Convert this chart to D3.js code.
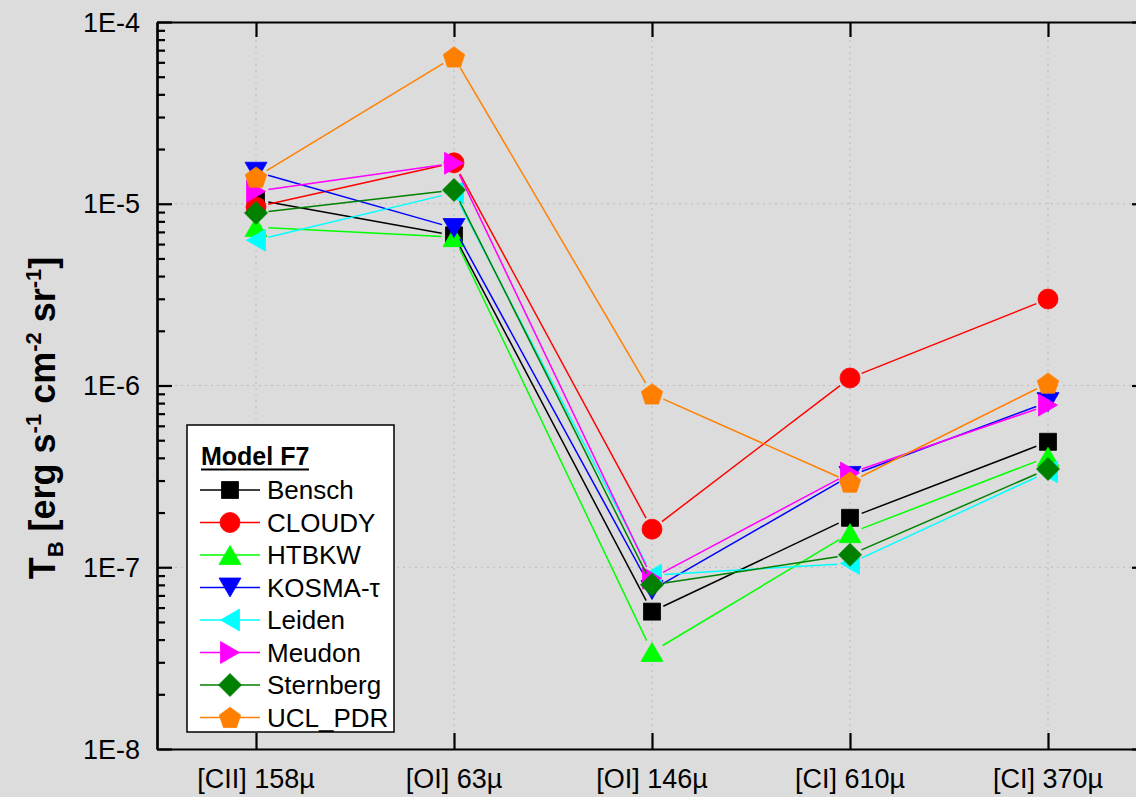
<!DOCTYPE html>
<html>
<head>
<meta charset="utf-8">
<script src="https://cdn.jsdelivr.net/npm/d3@7"></script>
<style>
html,body{margin:0;padding:0;background:#dcdcdc;}
svg{display:block;}
</style>
</head>
<body>
<svg id="chart" width="1136" height="797"></svg>
<script>
// ---- data ----
const categories = ["[CII] 158\u00b5", "[OI] 63\u00b5", "[OI] 146\u00b5", "[CI] 610\u00b5", "[CI] 370\u00b5"];
const yTickValues = [1e-8, 1e-7, 1e-6, 1e-5, 1e-4];
const yTickLabels = ["1E-8", "1E-7", "1E-6", "1E-5", "1E-4"];
const seriesNames = ["Bensch", "CLOUDY", "HTBKW", "KOSMA-\u03c4", "Leiden", "Meudon", "Sternberg", "UCL_PDR"];
const seriesColors = ["#000000", "#ff0000", "#00ff00", "#0000ff", "#00ffff", "#ff00ff", "#008000", "#ff8000"];
const seriesShapes = ["square", "circle", "triUp", "triDown", "triLeft", "triRight", "diamond", "pentagon"];
const bensch    = [1.05e-5, 6.7e-6, 5.7e-8, 1.87e-7, 4.9e-7];
const cloudy    = [9.6e-6, 1.68e-5, 1.62e-7, 1.1e-6, 2.99e-6];
const htbkw     = [7.45e-6, 6.55e-6, 3.42e-8, 1.54e-7, 4.05e-7];
const kosma     = [1.5e-5, 7.35e-6, 7.5e-8, 3.18e-7, 8.1e-7];
const leiden    = [6.3e-6, 1.15e-5, 9.05e-8, 1.05e-7, 3.35e-7];
const meudon    = [1.17e-5, 1.67e-5, 8.7e-8, 3.3e-7, 7.8e-7];
const sternberg = [8.9e-6, 1.19e-5, 8.0e-8, 1.17e-7, 3.47e-7];
const ucl       = [1.4e-5, 6.42e-5, 8.98e-7, 2.94e-7, 1.03e-6];
const seriesValues = [bensch, cloudy, htbkw, kosma, leiden, meudon, sternberg, ucl];
const legendTitle = "Model F7";

(function () {
const FONT = "'Liberation Sans', Arial, sans-serif";
const svg = d3.select("#chart");
const pLeft = 157, pRight = 1147, pTop = 22, pBottom = 749;
const x = d3.scaleLinear().domain([0.5, categories.length + 0.5]).range([pLeft, pRight]);
const y = d3.scaleLog().domain([1e-8, 1e-4]).range([pBottom, pTop]);

svg.append("rect").attr("width", 1136).attr("height", 797).attr("fill", "#dcdcdc");

// grid
const grid = svg.append("g").attr("stroke", "#bcbcbc").attr("stroke-width", 1).attr("stroke-dasharray", "2,4");
categories.forEach((c, i) => {
  grid.append("line").attr("x1", x(i + 1)).attr("x2", x(i + 1)).attr("y1", pTop).attr("y2", pBottom);
});
yTickValues.slice(1, -1).forEach(v => {
  grid.append("line").attr("x1", pLeft).attr("x2", pRight).attr("y1", y(v)).attr("y2", y(v));
});

// axes
const minorVals = [];
for (let e = -8; e < -4; e++) for (let m = 2; m <= 9; m++) minorVals.push(m * Math.pow(10, e));

const leftAxis = d3.axisRight(y).tickValues(yTickValues).tickFormat("").tickSizeInner(15).tickSizeOuter(0);
const leftMinor = d3.axisRight(y).tickValues(minorVals).tickFormat("").tickSizeInner(8).tickSizeOuter(0);
const rightAxis = d3.axisLeft(y).tickValues(yTickValues).tickFormat("").tickSizeInner(15).tickSizeOuter(0);
const rightMinor = d3.axisLeft(y).tickValues(minorVals).tickFormat("").tickSizeInner(8).tickSizeOuter(0);
const bottomAxis = d3.axisTop(x).tickValues(d3.range(1, categories.length + 1)).tickFormat("").tickSizeInner(16).tickSizeOuter(0);
const topAxis = d3.axisBottom(x).tickValues(d3.range(1, categories.length + 1)).tickFormat("").tickSizeInner(15).tickSizeOuter(0);

function styleAxis(g) {
  g.selectAll("path").attr("stroke", "#000").attr("stroke-width", 2.2);
  g.selectAll("line").attr("stroke", "#000").attr("stroke-width", 2.2);
}
svg.append("g").attr("transform", `translate(${pLeft},0)`).call(leftAxis).call(styleAxis);
svg.append("g").attr("transform", `translate(${pLeft},0)`).call(leftMinor).call(styleAxis);
svg.append("g").attr("transform", `translate(${pRight},0)`).call(rightAxis).call(styleAxis);
svg.append("g").attr("transform", `translate(${pRight},0)`).call(rightMinor).call(styleAxis);
svg.append("g").attr("transform", `translate(0,${pBottom})`).call(bottomAxis).call(styleAxis);
svg.append("g").attr("transform", `translate(0,${pTop})`).call(topAxis).call(styleAxis);

// tick labels
const yLab = svg.append("g").attr("font-family", FONT).attr("font-size", 27).attr("text-anchor", "end");
yTickValues.forEach((v, i) => {
  yLab.append("text").attr("x", 140).attr("y", y(v)).attr("dy", "0.36em").text(yTickLabels[i]);
});
const xLab = svg.append("g").attr("font-family", FONT).attr("font-size", 27).attr("text-anchor", "middle");
categories.forEach((c, i) => {
  xLab.append("text").attr("x", x(i + 1)).attr("y", 788).text(c);
});

// y axis title
const yt = svg.append("text").attr("font-family", FONT).attr("font-weight", "bold").attr("font-size", 36)
  .attr("text-anchor", "middle").attr("transform", "translate(55,418) rotate(-90)");
yt.append("tspan").text("T");
yt.append("tspan").attr("font-size", 22).attr("dy", 8).text("B");
yt.append("tspan").attr("dy", -8).text(" [erg s");
yt.append("tspan").attr("font-size", 22).attr("dy", -14).text("-1");
yt.append("tspan").attr("dy", 14).text(" cm");
yt.append("tspan").attr("font-size", 22).attr("dy", -14).text("-2");
yt.append("tspan").attr("dy", 14).text(" sr");
yt.append("tspan").attr("font-size", 22).attr("dy", -14).text("-1");
yt.append("tspan").attr("dy", 14).text("]");

function markerPath(shape) {
  switch (shape) {
    case "square": return "M-8.5,-8.5H8.5V8.5H-8.5Z";
    case "circle": return "M10,0A10,10 0 1,1 -10,0A10,10 0 1,1 10,0Z";
    case "triUp": return "M0,-9.5L11,9.5L-11,9.5Z";
    case "triDown": return "M0,9.5L11,-9.5L-11,-9.5Z";
    case "triLeft": return "M-9.5,0L9.5,-11L9.5,11Z";
    case "triRight": return "M9.5,0L-9.5,-11L-9.5,11Z";
    case "diamond": return "M0,-11.5L11.5,0L0,11.5L-11.5,0Z";
    case "pentagon": {
      const R = 11.2, pts = [];
      for (let k = 0; k < 5; k++) {
        const a = -Math.PI / 2 + k * 2 * Math.PI / 5;
        pts.push([R * Math.cos(a), R * Math.sin(a) + 1]);
      }
      return "M" + pts.map(p => p[0].toFixed(2) + "," + p[1].toFixed(2)).join("L") + "Z";
    }
  }
}

const GAP = 12.5;
seriesValues.forEach((vals, si) => {
  const col = seriesColors[si];
  const g = svg.append("g");
  const pts = vals.map((v, i) => [x(i + 1), y(v)]);
  for (let i = 0; i < pts.length - 1; i++) {
    const [x1, y1] = pts[i], [x2, y2] = pts[i + 1];
    const dx = x2 - x1, dy = y2 - y1, L = Math.hypot(dx, dy);
    if (L <= 2 * GAP) continue;
    const ux = dx / L, uy = dy / L;
    g.append("line").attr("x1", x1 + ux * GAP).attr("y1", y1 + uy * GAP)
      .attr("x2", x2 - ux * GAP).attr("y2", y2 - uy * GAP)
      .attr("stroke", col).attr("stroke-width", 1.5);
  }
  pts.forEach(p => {
    g.append("path").attr("d", markerPath(seriesShapes[si])).attr("transform", `translate(${p[0]},${p[1]})`)
      .attr("fill", col).attr("stroke", col).attr("stroke-width", 0.8);
  });
});

// legend
const lg = svg.append("g").attr("font-family", FONT);
lg.append("rect").attr("x", 187).attr("y", 425).attr("width", 207).attr("height", 307)
  .attr("fill", "#ffffff").attr("stroke", "#000").attr("stroke-width", 1.5);
lg.append("text").attr("x", 201).attr("y", 465).attr("font-size", 25).attr("font-weight", "bold").text(legendTitle);
lg.append("line").attr("x1", 201).attr("x2", 309).attr("y1", 469.5).attr("y2", 469.5).attr("stroke", "#000").attr("stroke-width", 2);
seriesNames.forEach((name, i) => {
  const cy = 490 + i * 32.5;
  lg.append("line").attr("x1", 200).attr("x2", 260).attr("y1", cy).attr("y2", cy)
    .attr("stroke", seriesColors[i]).attr("stroke-width", 1.5);
  lg.append("path").attr("d", markerPath(seriesShapes[i])).attr("transform", `translate(230,${cy})`)
    .attr("fill", seriesColors[i]).attr("stroke", seriesColors[i]).attr("stroke-width", 0.8);
  lg.append("text").attr("x", 267).attr("y", cy).attr("dy", "0.36em").attr("font-size", 26).text(name);
});
})();
</script>
</body>
</html>
